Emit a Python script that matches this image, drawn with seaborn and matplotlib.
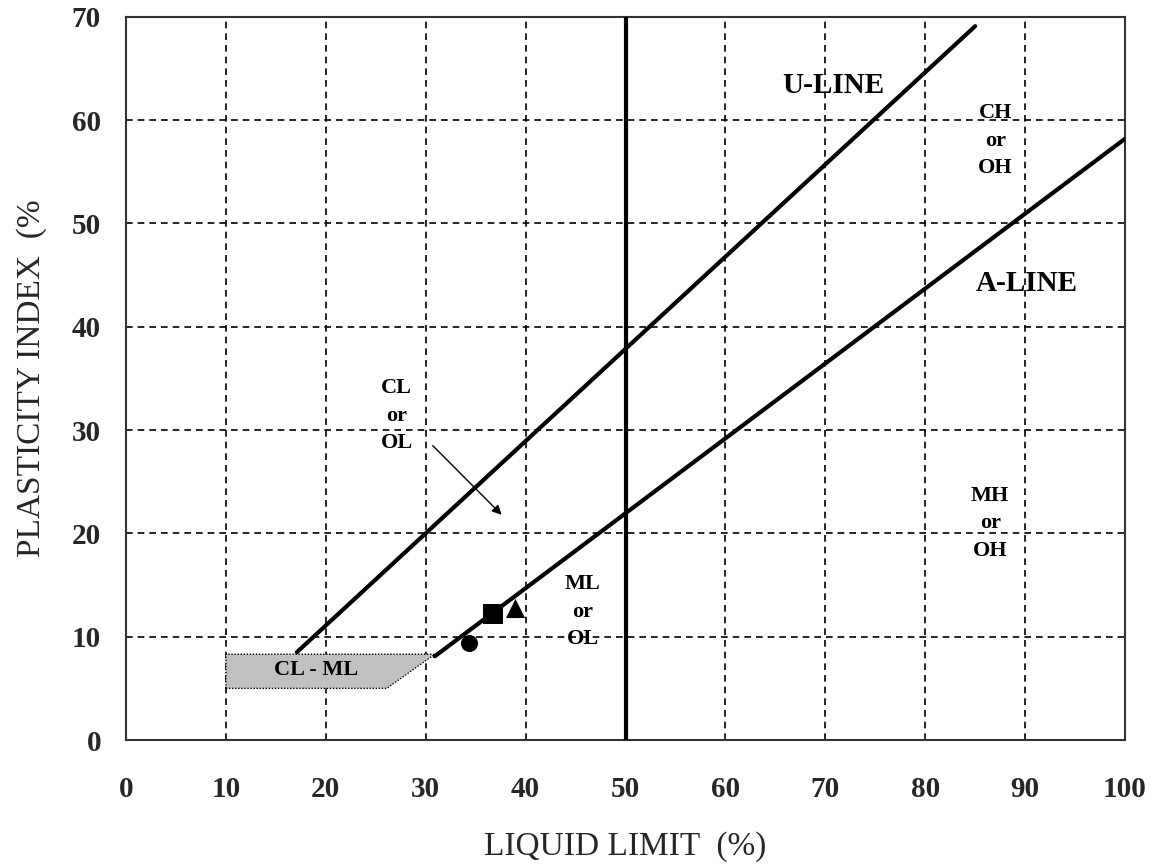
import matplotlib
matplotlib.use("Agg")
import matplotlib.pyplot as plt
from matplotlib.ticker import MultipleLocator
from matplotlib.patches import Polygon
import seaborn as sns

# Casagrande plasticity chart data
u_line_ll = [17.1, 85.0]
u_line_pi = [8.5, 69.1]
a_line_ll = [30.9, 100.0]
a_line_pi = [8.1, 58.2]
clml_ll = [10.0, 26.1, 30.9, 10.0]
clml_pi = [5.0, 5.0, 8.3, 8.3]
ll_boundary = 50

sample_ll = [34.3, 36.7, 38.9]
sample_pi = [9.4, 12.2, 12.8]
sample_marker = ["o", "s", "^"]
sample_size = [150, 210, 190]

arrow_from = (30.7, 28.5)
arrow_to = (37.6, 21.8)

sns.set_style("white")
plt.rcParams["font.family"] = ["Liberation Serif", "DejaVu Serif"]

fig = plt.figure(figsize=(11.52, 8.64), dpi=100)
ax = fig.add_axes([0.1094, 0.1435, 0.8672, 0.837])

ax.set_xlim(0, 100)
ax.set_ylim(0, 70)
ax.xaxis.set_major_locator(MultipleLocator(10))
ax.xaxis.set_minor_locator(MultipleLocator(2))
ax.yaxis.set_major_locator(MultipleLocator(10))
ax.yaxis.set_minor_locator(MultipleLocator(2))
ax.tick_params(which="both", direction="in", length=6, width=1.2,
               color="black", top=False, right=False)
ax.tick_params(axis="x", which="major", pad=26, labelsize=21)
ax.tick_params(axis="y", which="major", pad=18, labelsize=21)
for lab in ax.get_xticklabels() + ax.get_yticklabels():
    lab.set_fontweight("bold")

ax.grid(True, which="major", color="black", linestyle=(0, (4, 3)), lw=1.2, zorder=0)
ax.set_axisbelow(True)
for sp in ax.spines.values():
    sp.set_color("#333333")
    sp.set_linewidth(1.5)

# CL-ML zone
zone = Polygon(list(zip(clml_ll, clml_pi)), closed=True, facecolor="#c0c0c0",
               edgecolor="black", linestyle=(0, (1, 1.2)), lw=1.0, zorder=2)
ax.add_patch(zone)

sns.lineplot(x=u_line_ll, y=u_line_pi, ax=ax, color="black", lw=3, zorder=3)
sns.lineplot(x=a_line_ll, y=a_line_pi, ax=ax, color="black", lw=3, zorder=3)
ax.axvline(ll_boundary, color="black", lw=3, zorder=3)

for x, y, m, s in zip(sample_ll, sample_pi, sample_marker, sample_size):
    sns.scatterplot(x=[x], y=[y], marker=m, s=s, color="black", ax=ax,
                    edgecolor="black", linewidth=0, zorder=4, legend=False)

ax.annotate("", xy=arrow_to, xytext=arrow_from,
            arrowprops=dict(arrowstyle="-|>", lw=1.0, color="black",
                            mutation_scale=14, shrinkA=0, shrinkB=0), zorder=4)

label_kw = dict(ha="center", va="center", fontweight="bold", color="black", zorder=5)
zone_kw = dict(fontsize=16, linespacing=1.5, **label_kw)
ax.text(70.8, 63.4, "U-LINE", fontsize=21, **label_kw)
ax.text(90.2, 44.2, "A-LINE", fontsize=21, **label_kw)
ax.text(87.0, 58.0, "CH\nor\nOH", **zone_kw)
ax.text(27.1, 31.4, "CL\nor\nOL", **zone_kw)
ax.text(86.5, 21.0, "MH\nor\nOH", **zone_kw)
ax.text(45.7, 12.4, "ML\nor\nOL", **zone_kw)
ax.text(19.0, 6.8, "CL - ML", fontsize=16, **label_kw)

ax.set_xlabel("LIQUID LIMIT  (%)", fontsize=24, labelpad=20)
ax.set_ylabel("PLASTICITY INDEX  (%", fontsize=24, labelpad=18)

fig.savefig("out.png", dpi=100)
